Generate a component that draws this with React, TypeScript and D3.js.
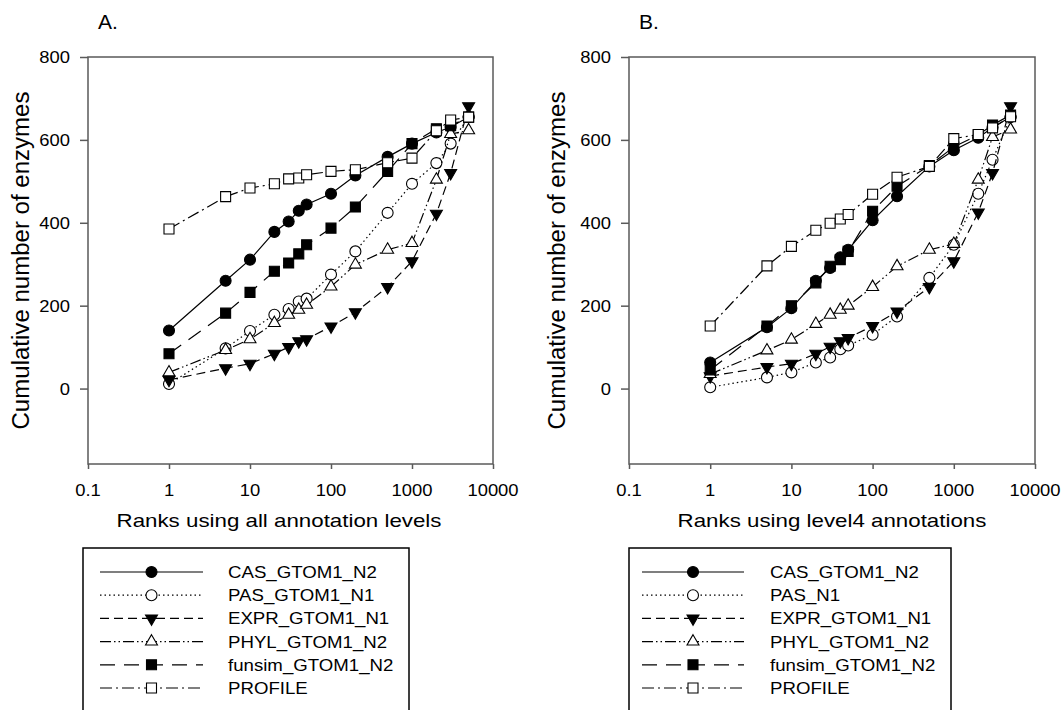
import { useEffect, useRef } from 'react';
import * as d3 from 'd3';

const ranks = [1, 5, 10, 20, 30, 40, 50, 100, 200, 500, 1000, 2000, 3000, 5000];

// Panel A: all annotation levels
const casA = [140, 260, 311, 378, 403, 429, 444, 470, 514, 559, 591, 618, 631, 655];
const pasA = [11, 97, 139, 178, 192, 210, 217, 275, 331, 424, 494, 544, 591, 655];
const exprA = [21, 49, 60, 84, 100, 114, 119, 150, 184, 245, 307, 422, 520, 681];
const phylA = [39, 93, 119, 158, 178, 190, 202, 246, 299, 335, 351, 504, 614, 623];
const funsimA = [84, 182, 232, 283, 303, 325, 347, 387, 438, 524, 591, 627, 634, 655];
const profileA = [385, 463, 484, 494, 506, 508, 516, 524, 528, 545, 556, 622, 648, 655];

// Panel B: level4 annotations
const casB = [63, 148, 194, 260, 291, 317, 335, 406, 464, 536, 575, 605, 630, 655];
const pasB = [3, 27, 39, 63, 75, 95, 104, 130, 174, 267, 347, 470, 552, 655];
const exprB = [30, 52, 60, 84, 101, 114, 122, 151, 186, 245, 307, 425, 520, 681];
const phylB = [35, 92, 118, 156, 178, 190, 200, 245, 295, 335, 349, 504, 607, 625];
const funsimB = [45, 151, 200, 255, 295, 311, 331, 428, 488, 538, 583, 612, 636, 660];
const profileB = [151, 296, 343, 382, 399, 409, 420, 469, 510, 536, 603, 613, 629, 656];

const namesA = ['CAS_GTOM1_N2', 'PAS_GTOM1_N1', 'EXPR_GTOM1_N1', 'PHYL_GTOM1_N2', 'funsim_GTOM1_N2', 'PROFILE'];
const namesB = ['CAS_GTOM1_N2', 'PAS_N1', 'EXPR_GTOM1_N1', 'PHYL_GTOM1_N2', 'funsim_GTOM1_N2', 'PROFILE'];

const xTicks = [0.1, 1, 10, 100, 1000, 10000];
const yTicks = [0, 200, 400, 600, 800];

const FONT = '"Liberation Sans", Arial, sans-serif';
const AXIS = '#5a5a5a';

// marker + dash style for each series, in legend order
const styles = [
  { shape: 'circle', fill: '#000', dash: null },
  { shape: 'circle', fill: '#fff', dash: '1.5,3' },
  { shape: 'down', fill: '#000', dash: '9,5' },
  { shape: 'up', fill: '#fff', dash: '11,3,1.5,3,1.5,3' },
  { shape: 'square', fill: '#000', dash: '15,9' },
  { shape: 'square', fill: '#fff', dash: '12,4,2,4' },
];

function addText(g, x, y, str, size, sx, anchor = 'middle') {
  return g.append('text')
    .attr('transform', `translate(${x},${y}) scale(${sx},1)`)
    .attr('text-anchor', anchor)
    .attr('font-family', FONT)
    .attr('font-size', size)
    .attr('fill', '#000')
    .text(str);
}

function drawMarker(g, shape, fill, x, y) {
  let sym;
  if (shape === 'circle') sym = d3.symbol(d3.symbolCircle, 95);
  else if (shape === 'square') sym = d3.symbol(d3.symbolSquare, 100);
  else sym = d3.symbol(d3.symbolTriangle, 62);
  g.append('path')
    .attr('d', sym())
    .attr('transform', `translate(${x},${y})${shape === 'down' ? ' rotate(180)' : ''}`)
    .attr('fill', fill)
    .attr('stroke', '#000')
    .attr('stroke-width', 1.1);
}

function drawPanel(svg, opts) {
  const { left, right, top, bottom, series, names, title, xLabel, xLabelX, yLabelX, legend } = opts;

  const x = d3.scaleLog().domain([0.1, 10000]).range([left, right]);
  const y = d3.scaleLinear().domain([-182, 800]).range([bottom, top]);

  const g = svg.append('g');

  // frame
  g.append('rect')
    .attr('x', left).attr('y', top)
    .attr('width', right - left).attr('height', bottom - top)
    .attr('fill', 'none').attr('stroke', AXIS).attr('stroke-width', 1.5);

  // x axis
  const xa = g.append('g')
    .attr('transform', `translate(0,${bottom})`)
    .call(d3.axisBottom(x).tickValues(xTicks).tickSize(5).tickFormat(() => ''));
  xa.select('.domain').remove();
  xa.selectAll('line').attr('stroke', AXIS).attr('stroke-width', 1.5);
  xTicks.forEach(t => addText(g, x(t), 496, String(t), 16, 1.15));

  // y axis
  const ya = g.append('g')
    .attr('transform', `translate(${left},0)`)
    .call(d3.axisLeft(y).tickValues(yTicks).tickSize(8).tickFormat(() => ''));
  ya.select('.domain').remove();
  ya.selectAll('line').attr('stroke', AXIS).attr('stroke-width', 1.5);
  yTicks.forEach(t => addText(g, left - 18, y(t) + 6, String(t), 16, 1.15, 'end'));

  // labels
  addText(g, left + 20, 29, title, 20, 1.05);
  addText(g, xLabelX, 527, xLabel, 18, 1.24);
  g.append('text')
    .attr('transform', `translate(${yLabelX},${(top + bottom) / 2}) rotate(-90)`)
    .attr('text-anchor', 'middle')
    .attr('font-family', FONT)
    .attr('font-size', 23)
    .attr('textLength', 338)
    .attr('lengthAdjust', 'spacingAndGlyphs')
    .text('Cumulative number of enzymes');

  // series
  const line = d3.line()
    .x((d, i) => x(ranks[i]))
    .y(d => y(d));

  series.forEach((vals, k) => {
    const st = styles[k];
    g.append('path')
      .attr('d', line(vals))
      .attr('fill', 'none')
      .attr('stroke', '#000')
      .attr('stroke-width', 1.2)
      .attr('stroke-dasharray', st.dash);
    vals.forEach((v, i) => drawMarker(g, st.shape, st.fill, x(ranks[i]), y(v)));
  });

  // legend
  const lg = svg.append('g');
  lg.append('rect')
    .attr('x', legend.x0).attr('y', 548)
    .attr('width', legend.x1 - legend.x0).attr('height', 200)
    .attr('fill', 'none').attr('stroke', '#000').attr('stroke-width', 1.5);

  names.forEach((name, k) => {
    const st = styles[k];
    const ry = 572 + k * 23.2;
    lg.append('line')
      .attr('x1', legend.lx0).attr('x2', legend.lx1)
      .attr('y1', ry).attr('y2', ry)
      .attr('stroke', '#000').attr('stroke-width', 1.2)
      .attr('stroke-dasharray', st.dash);
    drawMarker(lg, st.shape, st.fill, (legend.lx0 + legend.lx1) / 2, ry);
    addText(lg, legend.tx, ry + 6, name, 16.5, 1.13, 'start');
  });
}

export default function App() {
  const ref = useRef(null);

  useEffect(() => {
    const svg = d3.select(ref.current);
    svg.selectAll('*').remove();

    drawPanel(svg, {
      left: 88, right: 493, top: 57, bottom: 464,
      series: [casA, pasA, exprA, phylA, funsimA, profileA],
      names: namesA,
      title: 'A.',
      xLabel: 'Ranks using all annotation levels',
      xLabelX: 279,
      yLabelX: 29,
      legend: { x0: 83, x1: 409, lx0: 100, lx1: 203, tx: 228 },
    });

    drawPanel(svg, {
      left: 629, right: 1035, top: 57, bottom: 464,
      series: [casB, pasB, exprB, phylB, funsimB, profileB],
      names: namesB,
      title: 'B.',
      xLabel: 'Ranks using level4 annotations',
      xLabelX: 832,
      yLabelX: 565,
      legend: { x0: 629, x1: 951, lx0: 642, lx1: 744, tx: 770 },
    });
  }, []);

  return (
    <svg
      ref={ref}
      width={1063}
      height={710}
      style={{ position: 'absolute', left: 0, top: 0, background: '#fff' }}
    />
  );
}
